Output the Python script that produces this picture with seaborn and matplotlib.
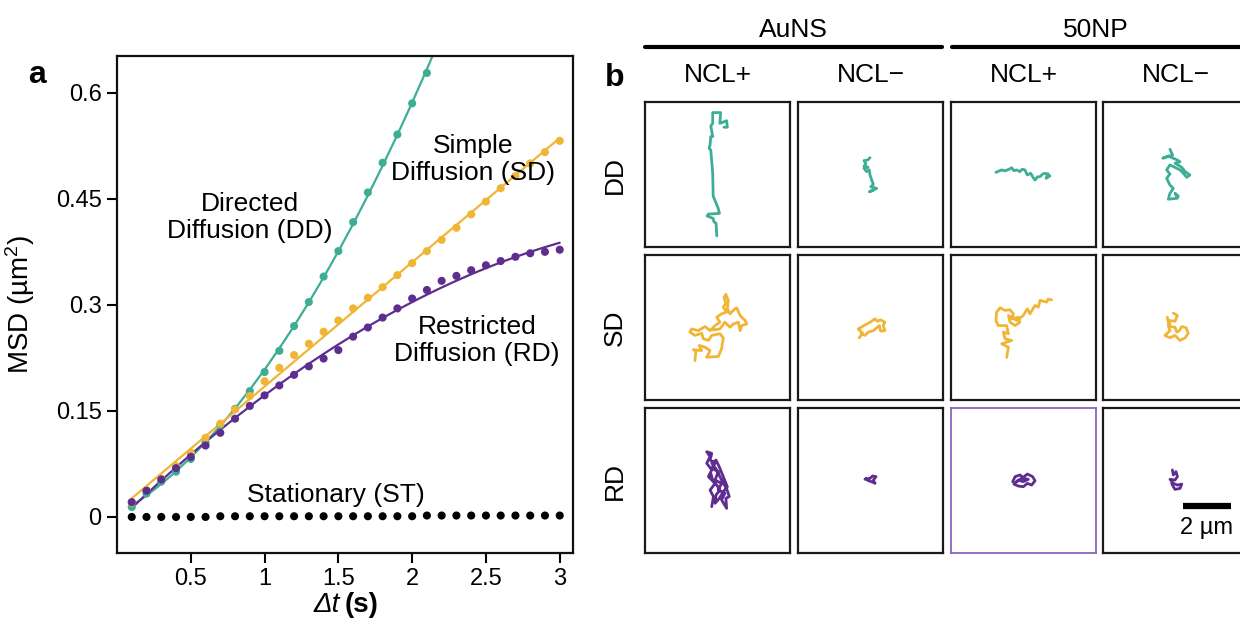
import numpy as np
import pandas as pd
import matplotlib.pyplot as plt
import seaborn as sns
from matplotlib.lines import Line2D

sns.set_style("white")
plt.rcParams["font.family"] = ["Liberation Sans", "DejaVu Sans"]
plt.rcParams["mathtext.fontset"] = "custom"
plt.rcParams["mathtext.rm"] = "Liberation Sans"
plt.rcParams["mathtext.it"] = "Liberation Sans:italic"
plt.rcParams["mathtext.bf"] = "Liberation Sans:bold"
plt.rcParams["text.color"] = "black"
plt.rcParams["axes.labelcolor"] = "black"
plt.rcParams["xtick.color"] = "black"
plt.rcParams["ytick.color"] = "black"

TEAL = "#3DAE95"
GOLD = "#F1B536"
PURPLE = "#5E2D8F"
palette = {"DD": TEAL, "SD": GOLD, "RD": PURPLE, "ST": "black"}

# ---- panel a data: MSD vs lag time ----
lag = [0.1, 0.2, 0.3, 0.4, 0.5, 0.6, 0.7, 0.8, 0.9, 1.0,
       1.1, 1.2, 1.3, 1.4, 1.5, 1.6, 1.7, 1.8, 1.9, 2.0,
       2.1, 2.2, 2.3, 2.4, 2.5, 2.6, 2.7, 2.8, 2.9, 3.0]
msd_dd = [0.014, 0.033, 0.050, 0.064, 0.082, 0.105, 0.130, 0.153, 0.178, 0.205,
          0.235, 0.270, 0.304, 0.340, 0.376, 0.417, 0.459, 0.501, 0.541, 0.585,
          0.628]
msd_sd = [0.020, 0.038, 0.054, 0.072, 0.091, 0.112, 0.132, 0.152, 0.171, 0.192,
          0.211, 0.229, 0.245, 0.262, 0.278, 0.295, 0.310, 0.325, 0.342, 0.359,
          0.376, 0.392, 0.409, 0.428, 0.446, 0.465, 0.482, 0.500, 0.516, 0.532]
msd_rd = [0.021, 0.037, 0.053, 0.069, 0.085, 0.101, 0.119, 0.139, 0.157, 0.172,
          0.186, 0.201, 0.213, 0.224, 0.236, 0.255, 0.268, 0.282, 0.295, 0.309,
          0.321, 0.334, 0.341, 0.349, 0.356, 0.362, 0.368, 0.373, 0.375, 0.378]
msd_st = [0.000, 0.000, 0.000, 0.000, 0.000, 0.000, 0.001, 0.001, 0.001, 0.001,
          0.001, 0.001, 0.001, 0.001, 0.001, 0.001, 0.001, 0.001, 0.001, 0.001,
          0.002, 0.002, 0.002, 0.002, 0.002, 0.002, 0.002, 0.002, 0.002, 0.002]
fit_degree = {"DD": 2, "SD": 1, "RD": 2}

# ---- panel b data: example trajectories (um, relative to box centre) ----
dd_auns_pos = [(-0.03, -2.56), (-0.06, -2.03), (-0.15, -1.97), (-0.18, -1.83), (-0.43, -1.73),
               (-0.38, -1.65), (0.08, -1.62), (0.03, -1.41), (-0.18, -0.90), (-0.20, 0.05),
               (-0.28, 1.02), (-0.35, 1.09), (-0.31, 1.23), (-0.28, 1.58), (-0.20, 1.58),
               (-0.28, 2.02), (-0.20, 2.13), (-0.20, 2.58), (0.13, 2.58), (0.10, 2.13),
               (0.38, 2.24), (0.41, 1.97), (0.27, 1.97)]
dd_auns_neg = [(-0.02, 0.70), (-0.12, 0.60), (-0.27, 0.58), (-0.19, 0.44), (-0.27, 0.35),
               (-0.10, 0.30), (-0.27, 0.26), (-0.16, 0.12), (-0.05, 0.19), (-0.02, -0.02),
               (0.05, -0.23), (0.12, -0.41), (0.01, -0.51), (0.26, -0.58), (-0.05, -0.72),
               (0.12, -0.65)]
dd_np_pos = [(-1.15, 0.09), (-0.91, 0.19), (-0.77, 0.15), (-0.60, 0.22), (-0.49, 0.28),
             (-0.40, 0.16), (-0.28, 0.19), (-0.15, 0.12), (-0.05, 0.22), (0.06, 0.19),
             (0.16, -0.02), (0.30, 0.05), (0.40, -0.12), (0.48, -0.23), (0.58, -0.10),
             (0.69, -0.09), (0.80, 0.02), (0.90, 0.05), (1.10, -0.06), (0.94, -0.16),
             (1.02, 0.04)]
dd_np_neg = [(-0.23, 1.05), (-0.12, 0.81), (-0.53, 0.68), (-0.30, 0.77), (0.08, 0.60),
             (0.19, 0.53), (-0.02, 0.47), (0.26, 0.30), (0.40, 0.12), (0.60, -0.02),
             (0.47, -0.12), (0.30, 0.08), (0.19, 0.19), (-0.23, 0.40), (-0.37, 0.19),
             (-0.23, 0.02), (-0.37, -0.16), (-0.23, -0.44), (-0.09, -0.58), (-0.23, -0.78),
             (-0.30, -1.03), (0.08, -0.99), (-0.02, -0.78), (0.12, -0.90)]
sd_auns_pos = [(-0.94, -1.38), (-0.90, -0.96), (-1.01, -0.93), (-0.66, -0.96), (-0.76, -0.75),
               (-0.52, -0.82), (-0.31, -0.96), (-0.45, -1.24), (0.03, -1.21), (0.17, -0.89),
               (0.24, -0.43), (0.10, -0.26), (-0.24, -0.33), (-0.38, -0.54), (-0.59, -0.47),
               (-0.66, -0.24), (-0.94, -0.33), (-1.15, -0.19), (-1.08, -0.06), (-0.80, -0.13),
               (-0.52, 0.04), (-0.31, -0.13), (-0.10, 0.08), (0.10, 0.22), (-0.03, 0.43),
               (0.17, 0.57), (0.38, 0.64), (0.24, 0.85), (0.35, 0.99), (0.27, 1.26),
               (0.35, 1.38), (0.45, 1.13), (0.41, 0.78), (0.52, 0.57), (0.73, 0.78),
               (0.80, 0.82), (0.94, 0.50), (1.15, 0.29), (1.22, 0.15), (1.01, 0.08),
               (0.94, -0.13), (0.87, 0.22), (0.66, 0.15), (0.52, 0.01), (0.31, 0.22),
               (0.10, -0.06), (-0.17, -0.10)]
sd_auns_neg = [(-0.47, -0.43), (-0.33, -0.24), (-0.51, -0.06), (-0.27, 0.08), (-0.02, 0.22),
               (0.19, 0.36), (0.28, 0.26), (0.42, 0.32), (0.60, 0.22), (0.53, 0.08),
               (0.60, -0.13), (0.42, -0.15), (0.37, 0.08), (0.26, -0.01), (0.12, -0.13),
               (-0.09, -0.19), (-0.23, -0.33), (-0.37, -0.26)]
sd_np_pos = [(-0.70, -1.24), (-0.63, -0.82), (-0.91, -0.68), (-0.49, -0.54), (-0.77, -0.47),
             (-0.84, -0.19), (-0.63, -0.26), (-0.70, 0.08), (-1.05, 0.08), (-1.15, 0.29),
             (-1.12, 0.64), (-0.98, 0.82), (-0.77, 0.71), (-0.56, 0.74), (-0.42, 0.57),
             (-0.49, 0.36), (-0.22, 0.43), (-0.15, 0.22), (-0.35, 0.08), (-0.56, 0.22),
             (-0.63, 0.50), (-0.28, 0.29), (-0.01, 0.50), (0.16, 0.78), (0.27, 0.57),
             (0.48, 0.92), (0.62, 0.85), (0.69, 1.13), (0.97, 1.06), (1.03, 1.19),
             (1.17, 1.15)]
sd_np_neg = [(-0.09, 0.60), (0.08, 0.50), (-0.02, 0.26), (-0.23, 0.29), (-0.30, 0.08),
             (-0.23, -0.13), (-0.44, -0.33), (-0.23, -0.43), (-0.02, -0.33), (0.19, -0.54),
             (0.40, -0.43), (0.53, -0.24), (0.44, -0.01), (0.26, 0.04), (0.16, -0.13),
             (0.05, -0.19), (-0.02, 0.01), (-0.20, 0.04), (-0.30, 0.22), (-0.34, 0.43)]
rd_auns_pos = [(-0.24, -1.09), (-0.17, -0.67), (-0.31, -0.40), (-0.10, -0.12), (-0.38, 0.16),
               (-0.24, 0.44), (-0.45, 0.72), (-0.31, 0.99), (-0.45, 1.20), (-0.24, 1.13),
               (-0.31, 0.85), (-0.10, 0.72), (-0.24, 0.51), (0.03, 0.37), (-0.10, 0.02),
               (0.17, -0.12), (0.03, -0.40), (0.31, -0.53), (0.17, -0.81), (0.38, -1.16),
               (0.35, -0.74), (0.49, -0.67), (0.38, -0.33), (0.24, -0.12), (0.10, 0.16),
               (-0.03, 0.44), (-0.24, 0.72), (-0.06, 0.85), (0.10, 0.51), (0.24, 0.16),
               (0.41, -0.26), (0.24, -0.47), (0.08, -0.74), (-0.10, -0.95), (-0.06, -0.60),
               (0.10, -0.40), (-0.03, -0.19), (-0.20, 0.02), (-0.28, 0.30)]
rd_auns_neg = [(-0.23, 0.05), (-0.02, 0.09), (0.09, 0.19), (0.23, 0.16), (0.12, 0.02),
               (0.19, -0.12), (0.05, -0.05), (-0.09, -0.01), (-0.19, 0.09)]
rd_np_pos = [(-0.45, -0.05), (-0.35, 0.16), (-0.15, 0.23), (-0.01, 0.13), (0.16, 0.27),
             (0.38, 0.16), (0.48, -0.01), (0.34, -0.19), (0.16, -0.12), (-0.01, -0.26),
             (-0.22, -0.23), (-0.40, -0.15), (-0.22, 0.02), (-0.01, -0.05), (0.20, 0.05),
             (-0.08, 0.09), (-0.28, -0.05)]
rd_np_neg = [(-0.13, 0.44), (-0.09, 0.23), (0.02, 0.37), (0.08, 0.16), (-0.02, 0.02),
             (-0.23, 0.05), (-0.09, -0.12), (0.08, -0.19), (0.26, -0.15), (0.19, -0.33),
             (-0.02, -0.37), (-0.09, -0.26), (-0.16, -0.12)]

rows = ["DD", "SD", "RD"]
cols = ["NCL+", "NCL\u2212", "NCL+", "NCL\u2212"]
groups = ["AuNS", "50NP"]
tracks = [[dd_auns_pos, dd_auns_neg, dd_np_pos, dd_np_neg],
          [sd_auns_pos, sd_auns_neg, sd_np_pos, sd_np_neg],
          [rd_auns_pos, rd_auns_neg, rd_np_pos, rd_np_neg]]
scale_um = 2

# ---- long-form tables ----
pts = pd.concat([
    pd.DataFrame({"t": lag[:len(msd_dd)], "msd": msd_dd, "mode": "DD"}),
    pd.DataFrame({"t": lag, "msd": msd_sd, "mode": "SD"}),
    pd.DataFrame({"t": lag, "msd": msd_rd, "mode": "RD"}),
    pd.DataFrame({"t": lag, "msd": msd_st, "mode": "ST"}),
])
fits = []
for mode, deg in fit_degree.items():
    sub = pts[pts["mode"] == mode]
    coef = np.polyfit(sub["t"], sub["msd"], deg)
    fits.append(pd.DataFrame({"t": lag, "msd": np.polyval(coef, lag), "mode": mode}))
fits = pd.concat(fits)

W, H = 1240, 624
fig = plt.figure(figsize=(W / 100, H / 100), dpi=100)

# ---- panel a ----
ax = fig.add_axes([117 / W, 1 - 553 / H, 456 / W, 497 / H])
sns.lineplot(data=fits, x="t", y="msd", hue="mode", palette=palette,
             linewidth=1.6, legend=False, ax=ax)
sns.scatterplot(data=pts, x="t", y="msd", hue="mode", palette=palette,
                s=34, linewidth=0, legend=False, ax=ax, zorder=3)
ax.set_xlim(0, 3.09)
ax.set_ylim(-0.051, 0.652)
ax.set_xticks([0.5, 1, 1.5, 2, 2.5, 3])
ax.set_xticklabels(["0.5", "1", "1.5", "2", "2.5", "3"])
ax.set_yticks([0, 0.15, 0.3, 0.45, 0.6])
ax.set_yticklabels(["0", "0.15", "0.3", "0.45", "0.6"])
ax.tick_params(direction="out", length=7, width=1.5, labelsize=17, pad=4,
               bottom=True, left=True, colors="black")
for sp in ax.spines.values():
    sp.set_linewidth(1.6)
    sp.set_color("#111111")
ax.set_xlabel("")
# x label: italic "Δt" followed by bold "(s)"
ax.text(0.489, -0.105, "\u0394t", transform=ax.transAxes, fontsize=20,
        fontstyle="italic", ha="right", va="center")
ax.text(0.499, -0.105, "(s)", transform=ax.transAxes, fontsize=20,
        fontweight="bold", ha="left", va="center")
ax.set_ylabel("MSD (\u00b5m$^2$)", fontsize=20)
ax.yaxis.set_label_coords(-0.175, 0.5)

txt = dict(fontsize=19, ha="center", va="center", linespacing=1.15)
ax.text(0.90, 0.424, "Directed\nDiffusion (DD)", **txt)
ax.text(2.41, 0.506, "Simple\nDiffusion (SD)", **txt)
ax.text(2.44, 0.249, "Restricted\nDiffusion (RD)", **txt)
ax.text(1.48, 0.031, "Stationary (ST)", **txt)
fig.text(37 / W, 1 - 75 / H, "a", fontsize=23, fontweight="bold", ha="center", va="center")

# ---- panel b ----
lefts = [645, 798, 951, 1103]
tops = [102, 255, 408]
box = 145
half = box / 2 / 24
for i, row in enumerate(rows):
    for j in range(4):
        bx = fig.add_axes([lefts[j] / W, 1 - (tops[i] + box) / H, box / W, box / H])
        tr = pd.DataFrame(tracks[i][j], columns=["x", "y"])
        sns.lineplot(data=tr, x="x", y="y", sort=False, estimator=None,
                     color=palette[row], linewidth=2.0, ax=bx)
        bx.set_xlim(-half, half)
        bx.set_ylim(-half, half)
        bx.set_xticks([])
        bx.set_yticks([])
        bx.set_xlabel("")
        bx.set_ylabel("")
        edge = "#8A63C0" if (i == 2 and j == 2) else "#1a1a1a"
        lw = 1.3 if (i == 2 and j == 2) else 1.6
        for sp in bx.spines.values():
            sp.set_linewidth(lw)
            sp.set_color(edge)
        if i == 2 and j == 3:
            bx.plot([0.31, 0.31 + scale_um], [-1.06, -1.06], color="black",
                    linewidth=4.5, solid_capstyle="butt")
            bx.text(0.31 + scale_um / 2, -1.98, f"{scale_um} \u00b5m", fontsize=17,
                    ha="center", va="center")
    fig.text(615 / W, 1 - (tops[i] + box / 2) / H, row, rotation=90,
             fontsize=19, ha="center", va="center")

for j, c in enumerate(cols):
    fig.text((lefts[j] + box / 2) / W, 1 - 75 / H, c, fontsize=19,
             ha="center", va="center")
for g, (x0, x1) in zip(groups, [(645, 942), (952, 1240)]):
    fig.add_artist(Line2D([x0 / W, x1 / W], [1 - 47 / H, 1 - 47 / H],
                          color="black", linewidth=3))
    fig.text((x0 + x1) / 2 / W, 1 - 30 / H, g, fontsize=19, ha="center", va="center")
fig.text(615 / W, 1 - 78 / H, "b", fontsize=23, fontweight="bold", ha="center", va="center")

fig.savefig("out.png", dpi=100)
